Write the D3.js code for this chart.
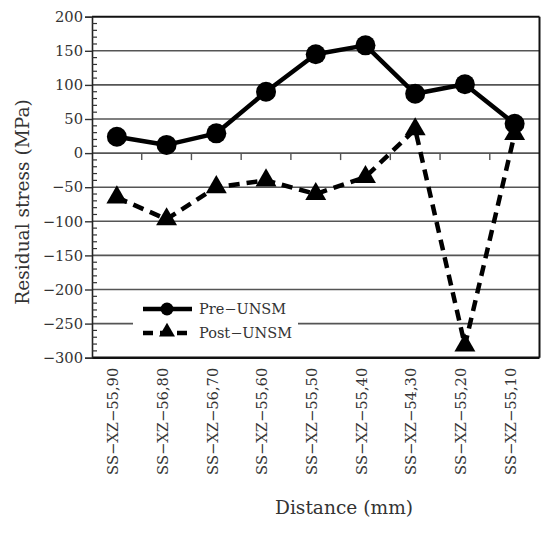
<!DOCTYPE html>
<html>
<head>
<meta charset="utf-8">
<script src="https://cdn.jsdelivr.net/npm/d3@7"></script>
<style>
  body { margin: 0; background: #fff; }
  svg { display: block; }
  text { font-family: "DejaVu Serif", serif; fill: #333; }
</style>
</head>
<body>
<svg id="chart" width="543" height="535"></svg>
<script>
// values
var samples = ["SS\u2212XZ\u221255,90", "SS\u2212XZ\u221256,80", "SS\u2212XZ\u221256,70",
               "SS\u2212XZ\u221255,60", "SS\u2212XZ\u221255,50", "SS\u2212XZ\u221255,40",
               "SS\u2212XZ\u221254,30", "SS\u2212XZ\u221255,20", "SS\u2212XZ\u221255,10"]
var preUNSM  = [24, 12, 29, 90, 145, 158, 87, 101, 43]
var postUNSM = [-65, -97, -50, -40, -60, -35, 35, -282, 28]
var yTicks = [200, 150, 100, 50, 0, -50, -100, -150, -200, -250, -300]
var seriesNames = ["Pre\u2212UNSM", "Post\u2212UNSM"]

var svg = d3.select("#chart")
// note: "top" is taken by window.top, so plot edges get their own names
var pLeft = 92, pTop = 16.7, pRight = 539.5, pBottom = 357.7

var x = d3.scaleBand().domain(samples).range([pLeft, pRight])
var y = d3.scaleLinear().domain([-300, 200]).range([pBottom, pTop])
var cx = function(i){ return x(samples[i]) + x.bandwidth() / 2 }

// grid lines
svg.append("g").selectAll("line")
  .data(yTicks.filter(function(d){ return d > -300 && d < 200 }))
  .enter().append("line")
  .attr("x1", pLeft).attr("x2", pRight)
  .attr("y1", function(d){ return y(d) }).attr("y2", function(d){ return y(d) })
  .attr("stroke", "#555").attr("stroke-width", 1.6)

// ticks hanging from the zero line between samples
svg.append("g").selectAll("line")
  .data(samples.slice(1))
  .enter().append("line")
  .attr("x1", function(d){ return x(d) }).attr("x2", function(d){ return x(d) })
  .attr("y1", y(0)).attr("y2", y(0) + 7)
  .attr("stroke", "#555").attr("stroke-width", 1.4)

// frame
svg.append("line").attr("x1", pLeft).attr("x2", pRight).attr("y1", pTop).attr("y2", pTop)
  .attr("stroke", "#111").attr("stroke-width", 2)
svg.append("line").attr("x1", pLeft).attr("x2", pRight).attr("y1", pBottom).attr("y2", pBottom)
  .attr("stroke", "#111").attr("stroke-width", 2.5)
svg.append("line").attr("x1", pRight).attr("x2", pRight).attr("y1", pTop).attr("y2", pBottom)
  .attr("stroke", "#111").attr("stroke-width", 2)

// y axis with minor ticks inside
var yAxis = d3.axisLeft(y).tickValues(yTicks).tickSize(7).tickPadding(2)
var ga = svg.append("g").attr("transform", "translate(" + pLeft + ",0)").call(yAxis)
ga.select(".domain").attr("stroke", "#222").attr("stroke-width", 1.6)
ga.selectAll(".tick line").attr("stroke", "#333").attr("stroke-width", 1.4)
ga.selectAll(".tick text").style("font-size", "14.7px").style("font-family", "DejaVu Serif").attr("fill", "#333")

var minor = d3.range(-300, 201, 10).filter(function(d){ return d % 50 !== 0 })
svg.append("g").selectAll("line").data(minor).enter().append("line")
  .attr("x1", pLeft).attr("x2", pLeft + 5)
  .attr("y1", function(d){ return y(d) }).attr("y2", function(d){ return y(d) })
  .attr("stroke", "#333").attr("stroke-width", 1.2)

// category labels
svg.append("g").selectAll("text").data(samples).enter().append("text")
  .attr("transform", function(d){ return "translate(" + (x(d) + x.bandwidth() / 2 - 4) + "," + (pBottom + 10) + ") rotate(-90)" })
  .attr("text-anchor", "end").attr("dy", "0.36em")
  .style("font-size", "14.7px")
  .text(function(d){ return d })

// axis titles
svg.append("text")
  .attr("transform", "translate(22,202) rotate(-90)")
  .attr("text-anchor", "middle").attr("dy", "0.35em")
  .style("font-size", "18.6px")
  .text("Residual stress (MPa)")
svg.append("text")
  .attr("x", 344).attr("y", 507).attr("text-anchor", "middle").attr("dy", "0.35em")
  .style("font-size", "18.6px")
  .text("Distance (mm)")

var line = d3.line()
  .x(function(d, i){ return cx(i) })
  .y(function(d){ return y(d) })

// pre-UNSM
svg.append("path").datum(preUNSM).attr("d", line)
  .attr("fill", "none").attr("stroke", "#000").attr("stroke-width", 4.5).attr("stroke-linejoin", "round")
svg.append("g").selectAll("circle").data(preUNSM).enter().append("circle")
  .attr("cx", function(d, i){ return cx(i) })
  .attr("cy", function(d){ return y(d) })
  .attr("r", 10).attr("fill", "#000")

// post-UNSM
svg.append("path").datum(postUNSM).attr("d", line)
  .attr("fill", "none").attr("stroke", "#000").attr("stroke-width", 4.5)
  .attr("stroke-dasharray", "11,7")
var tri = d3.symbol().type(d3.symbolTriangle).size(190)
svg.append("g").selectAll("path").data(postUNSM).enter().append("path")
  .attr("transform", function(d, i){ return "translate(" + cx(i) + "," + y(d) + ")" })
  .attr("d", tri).attr("fill", "#000")

// legend
var lg = svg.append("g")
lg.append("rect").attr("x", 133).attr("y", 296).attr("width", 165).attr("height", 50).attr("fill", "#fff")
lg.append("line").attr("x1", 143).attr("x2", 192).attr("y1", 309).attr("y2", 309)
  .attr("stroke", "#000").attr("stroke-width", 4.5)
lg.append("circle").attr("cx", 167).attr("cy", 309).attr("r", 6.5).attr("fill", "#000")
lg.append("line").attr("x1", 143).attr("x2", 192).attr("y1", 333).attr("y2", 333)
  .attr("stroke", "#000").attr("stroke-width", 4.5).attr("stroke-dasharray", "10,7")
lg.append("path").attr("transform", "translate(167,332)")
  .attr("d", d3.symbol().type(d3.symbolTriangle).size(110)).attr("fill", "#000")
lg.selectAll("text.lbl").data(seriesNames).enter().append("text")
  .attr("x", 199).attr("y", function(d, i){ return 309 + i * 24 })
  .attr("dy", "0.35em").style("font-size", "14.5px")
  .text(function(d){ return d })
</script>
</body>
</html>
